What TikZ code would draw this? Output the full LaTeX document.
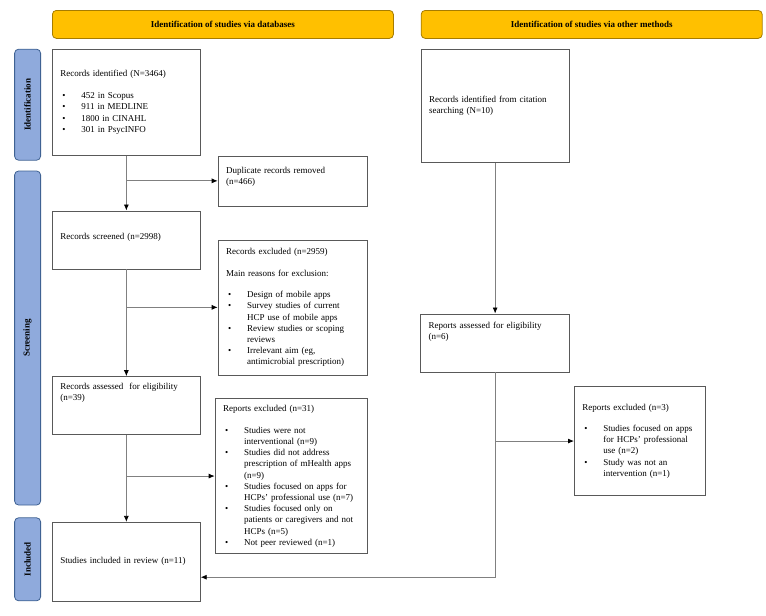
\documentclass[tikz,border=0pt]{standalone}
\usepackage{fontspec}
\setmainfont{Liberation Serif}
\usepackage{graphicx}
\usetikzlibrary{arrows.meta,positioning}
\definecolor{hdrfill}{HTML}{FFC000}
\definecolor{hdrline}{HTML}{A67C00}
\definecolor{sidefill}{HTML}{8FAADC}
\definecolor{sideline}{HTML}{3F6293}
\newenvironment{bullets}{\begin{list}{\textbullet}{\setlength{\leftmargin}{21pt}\setlength{\labelwidth}{19pt}\setlength{\labelsep}{0pt}%
  \setlength{\itemsep}{0pt}\setlength{\parsep}{0pt}\setlength{\topsep}{0pt}\setlength{\partopsep}{0pt}\renewcommand{\makelabel}[1]{##1\hfil}}}{\end{list}}
\newcommand{\padbelow}[1]{\rule[-#1]{0pt}{#1}}

\begin{document}
\begin{tikzpicture}[
    x=1pt, y=-1pt,
    font=\fontsize{9}{11.2}\selectfont,
    >=Latex,
    line width=0.8pt,
    node distance=10pt and 17pt,
    header/.style={draw=hdrline, fill=hdrfill, rounded corners=4pt, minimum width=341pt, minimum height=28pt, font=\fontsize{9}{11.2}\selectfont\bfseries},
    side/.style={draw=sideline, fill=sidefill, rounded corners=4pt, minimum width=26pt, inner sep=0pt, font=\fontsize{9}{11.2}\selectfont\bfseries},
    box/.style={draw=black!65, line width=0.7pt, inner xsep=8pt, inner ysep=3pt, align=left},
    flow/.style={draw=black!50, -{Latex[length=6pt,width=5pt,color=black]}}
]
\useasboundingbox (0,0) rectangle (766,616);

\node[header, anchor=north west] (hdrA) at (52,10) {Identification of studies via databases};
\node[header, right=27pt of hdrA] (hdrB) {Identification of studies via other methods};

\node[box, text width=132pt, minimum height=106pt, below=10pt of hdrA.south west, anchor=north west] (ident) {Records identified (N=3464)\par\vspace{11pt}
  \begin{bullets}\item 452 in Scopus \item 911 in MEDLINE \item 1800 in CINAHL \item 301 in PsycINFO\end{bullets}};
\node[side, minimum height=111pt, left=11pt of ident.north west, anchor=north east] (sideI) {\rotatebox{90}{Identification}};
\node[box, text width=133pt, minimum height=50pt, right=17pt of ident.south east, anchor=north west] (dup) {Duplicate records removed\newline (n=466)\padbelow{10pt}};

\node[box, text width=132pt, minimum height=58pt, below=55pt of ident] (screen) {Records screened (n=2998)\padbelow{6pt}};
\node[box, text width=133pt, minimum height=135pt, below right=29pt and 17pt of screen.north east, anchor=north west] (excl) {Records excluded (n=2959)\par\vspace{11pt}
  Main reasons for exclusion:\par\vspace{10pt}
  \begin{bullets}
  \item Design of mobile apps
  \item Survey studies of current\newline HCP use of mobile apps
  \item Review studies or scoping\newline reviews
  \item Irrelevant aim (eg,\newline antimicrobial prescription)
  \end{bullets}};
\node[side, minimum height=334pt, below=10pt of sideI] (sideS) {\rotatebox{90}{Screening}};

\node[box, text width=132pt, minimum height=58pt, below=107pt of screen] (elig) {Records assessed\ \ for eligibility\newline (n=39)\padbelow{27pt}};
\node[box, text width=136pt, minimum height=155pt, below right=22pt and 14pt of elig.north east, anchor=north west] (rep) {Reports excluded (n=31)\par\vspace{11pt}
  \begin{bullets}
  \item Studies were not\newline interventional (n=9)
  \item Studies did not address\newline prescription of mHealth apps\newline (n=9)
  \item Studies focused on apps for\newline HCPs’ professional use (n=7)
  \item Studies focused only on\newline patients or caregivers and not\newline HCPs (n=5)
  \item Not peer reviewed (n=1)
  \end{bullets}};

\node[box, text width=132pt, minimum height=79pt, below=87pt of elig] (incl) {Studies included in review (n=11)};
\node[side, minimum height=83pt, below=12pt of sideS] (sideN) {\rotatebox{90}{Included}};

\node[box, text width=132pt, minimum height=113pt, below=10pt of hdrB.south west, anchor=north west] (cite) {Records identified from citation\newline searching (N=10)};
\node[box, text width=133pt, minimum height=58pt, below=151pt of cite] (rasses) {Reports assessed for eligibility\newline (n=6)\padbelow{24pt}};
\node[box, text width=115pt, minimum height=109pt, below right=14pt and 4pt of rasses.south east, anchor=north west] (rexcl) {Reports excluded (n=3)\par\vspace{10pt}
  \begin{bullets}
  \item Studies focused on apps\newline for HCPs’ professional\newline use (n=2)
  \item Study was not an\newline intervention (n=1)
  \end{bullets}};
\coordinate[below=205pt of rasses.south] (turn);

\draw[flow] (ident) -- (screen);
\draw[flow] (ident.south |- dup.west) -- (dup);
\draw[flow] (screen) -- (elig);
\draw[flow] (screen.south |- excl.west) -- (excl);
\draw[flow] (elig) -- (incl);
\draw[flow] (elig.south |- rep.west) -- (rep);
\draw[flow] (cite) -- (rasses);
\draw[flow] (rasses) -- (turn) -- (turn -| incl.east);
\draw[flow] (rasses.south |- rexcl.west) -- (rexcl);
\end{tikzpicture}
\end{document}
